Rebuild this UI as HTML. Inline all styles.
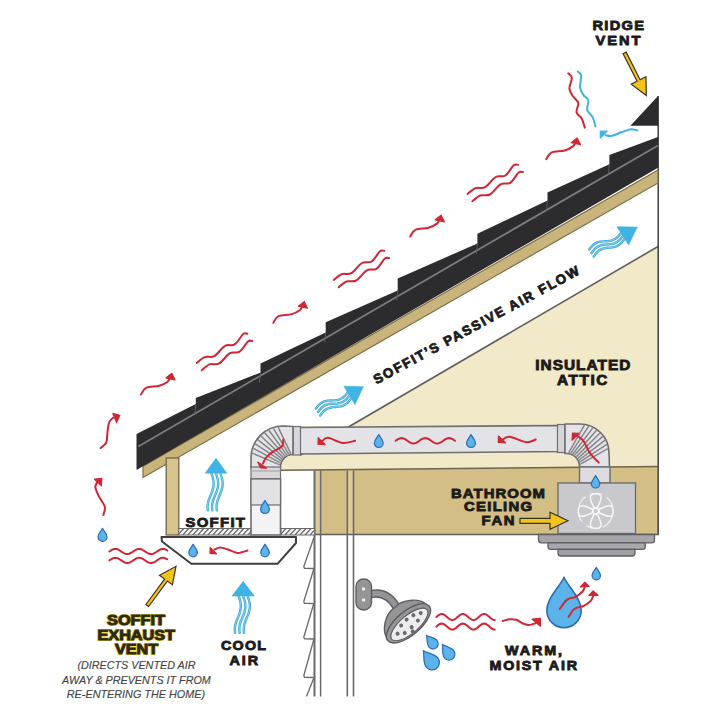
<!DOCTYPE html>
<html><head><meta charset="utf-8"><style>
html,body{margin:0;padding:0;background:#fff;width:720px;height:720px;overflow:hidden}
svg{display:block;font-family:"Liberation Sans",sans-serif}
</style></head><body>
<svg width="720" height="720" viewBox="0 0 720 720">
<rect width="720" height="720" fill="#fff"/>
<polygon points="350,426 658,246.5 658,466.5 281,470.3 281,426" fill="#f2e9c8"/>
<line x1="300" y1="455.2" x2="658" y2="246.5" stroke="#5d5d5f" stroke-width="1.6"/>
<polygon points="315,470 658,466.5 658,534 315,534" fill="#d3be86"/>
<rect x="315" y="470" width="6" height="64" fill="#dccb98"/>
<rect x="347.5" y="470" width="6" height="64" fill="#dccb98"/>
<line x1="281" y1="470.3" x2="659" y2="466.5" stroke="#6b6550" stroke-width="1.6"/>
<line x1="314" y1="534.5" x2="659" y2="534.5" stroke="#5d5d5f" stroke-width="1.6"/>
<line x1="658.2" y1="96" x2="658.2" y2="534.5" stroke="#4a4a4c" stroke-width="1.6"/>
<line x1="314.5" y1="470.5" x2="314.5" y2="696.5" stroke="#6a6a6c" stroke-width="2"/>
<line x1="320.6" y1="470.5" x2="320.6" y2="696.5" stroke="#6a6a6c" stroke-width="1.5"/>
<line x1="347.3" y1="470.5" x2="347.3" y2="696.5" stroke="#6a6a6c" stroke-width="1.6"/>
<line x1="353.5" y1="470.5" x2="353.5" y2="696.5" stroke="#6a6a6c" stroke-width="1.6"/>
<path d="M313.8 538 L303.8 566.5 L304.4 568.3 L313.8 568.5 M313.8 569 L303.8 601.5 L304.4 603.3 L313.8 603.5 M313.8 603.5 L303.8 637 L304.4 638.8 L313.8 639 M313.8 639.5 L303.8 675.5 L304.4 677.3 L313.8 677.5 M313.8 678 L306.5 696.5" fill="none" stroke="#6a6a6c" stroke-width="1.3" stroke-linejoin="round"/>
<polygon points="143,466.3 658,170 658,183 143,477.5" fill="#c9b47c" stroke="#7d6f48" stroke-width="1.2"/>
<rect x="166.2" y="458" width="12.6" height="77" fill="#d6c48c" stroke="#6e6448" stroke-width="1.3"/>
<polygon points="136.5,434 195.8,404 195.8,398 260.5,372.6 260.5,363.6 325.7,332.6 325.7,322.2 397.7,290.5 397.7,278.4 477.4,243.5 477.4,233.75 547.5,200.6 547.5,192.5 609.4,164.2 609.4,155.1 658,137 658,167.8 136.5,470" fill="#2c2c2e"/>
<line x1="138.3" y1="446.5" x2="658" y2="145.5" stroke="#7c7c80" stroke-width="1.8"/>
<line x1="195.8" y1="404" x2="194.8" y2="414" stroke="#5a5a5e" stroke-width="1"/>
<line x1="260.5" y1="372.6" x2="259.5" y2="382.6" stroke="#5a5a5e" stroke-width="1"/>
<line x1="325.7" y1="332.6" x2="324.7" y2="342.6" stroke="#5a5a5e" stroke-width="1"/>
<line x1="397.7" y1="290.5" x2="396.7" y2="300.5" stroke="#5a5a5e" stroke-width="1"/>
<line x1="477.4" y1="243.5" x2="476.4" y2="253.5" stroke="#5a5a5e" stroke-width="1"/>
<line x1="547.5" y1="200.6" x2="546.5" y2="210.6" stroke="#5a5a5e" stroke-width="1"/>
<line x1="609.4" y1="164.2" x2="608.4" y2="174.2" stroke="#5a5a5e" stroke-width="1"/>
<polygon points="658,96 658,125.8 630.4,125.8" fill="#2c2c2e"/>
<rect x="178.8" y="528.5" width="72.2" height="6.5" fill="#f2f2f2" stroke="#6a6a6c" stroke-width="1"/>
<clipPath id="h178"><rect x="178.8" y="528.5" width="72.2" height="6.5"/></clipPath>
<path d="M172.8 535 L178.8 528.5 M177.8 535 L183.8 528.5 M182.8 535 L188.8 528.5 M187.8 535 L193.8 528.5 M192.8 535 L198.8 528.5 M197.8 535 L203.8 528.5 M202.8 535 L208.8 528.5 M207.8 535 L213.8 528.5 M212.8 535 L218.8 528.5 M217.8 535 L223.8 528.5 M222.8 535 L228.8 528.5 M227.8 535 L233.8 528.5 M232.8 535 L238.8 528.5 M237.8 535 L243.8 528.5 M242.8 535 L248.8 528.5 M247.8 535 L253.8 528.5" stroke="#6a6a6c" stroke-width="1.2" clip-path="url(#h178)"/>
<rect x="281" y="528.5" width="33.7" height="6.5" fill="#f2f2f2" stroke="#6a6a6c" stroke-width="1"/>
<clipPath id="h281"><rect x="281" y="528.5" width="33.7" height="6.5"/></clipPath>
<path d="M275 535 L281 528.5 M280 535 L286 528.5 M285 535 L291 528.5 M290 535 L296 528.5 M295 535 L301 528.5 M300 535 L306 528.5 M305 535 L311 528.5 M310 535 L316 528.5" stroke="#6a6a6c" stroke-width="1.2" clip-path="url(#h281)"/>
<path d="M161.5 537 L296 537 L296 543 L277.5 563.8 L191.3 563.8 L162 541.5 Z" fill="#fff" stroke="#3f3f41" stroke-width="2" stroke-linejoin="round"/>
<polygon points="296,427.5 564,425.5 564,451.5 296,454" fill="#e3e3e7" stroke="#6e6e72" stroke-width="1.6"/>
<rect x="293" y="426.5" width="7.5" height="28.5" fill="#d6d6da" stroke="#6e6e72" stroke-width="1.2"/>
<rect x="557.5" y="424.5" width="7.5" height="28" fill="#d6d6da" stroke="#6e6e72" stroke-width="1.2"/>
<path d="M251 468 L251 458 A32 32 0 0 1 283 426 L293 426.5 L293 454.5 A12.5 12.5 0 0 0 280.5 467 L280.5 468 Z" fill="#e4e4e8" stroke="#6e6e72" stroke-width="1.6" stroke-linejoin="round"/>
<path d="M252.18 453.12 L279.86 464.92 M253.33 448.36 L280.35 462.89 M255.2 443.84 L281.15 460.96 M257.76 439.66 L282.24 459.18 M260.94 435.94 L283.6 457.6 M264.66 432.76 L285.18 456.24 M268.84 430.2 L286.96 455.15 M273.36 428.33 L288.89 454.35 M278.12 427.18 L290.92 453.86" stroke="#86868a" stroke-width="1.5"/>
<rect x="251" y="467" width="29.5" height="12" fill="#d8d8dc" stroke="#6e6e72" stroke-width="1.2"/>
<line x1="251" y1="471" x2="280.5" y2="471" stroke="#a0a0a4" stroke-width="1"/>
<rect x="251" y="479" width="29.5" height="56" fill="#f3f3f5" stroke="#6e6e72" stroke-width="1.6"/>
<rect x="251" y="479" width="29.5" height="26" fill="#e2e2e6" stroke="#6e6e72" stroke-width="1.2"/>
<path d="M565 424 L580 424 A29 29 0 0 1 609 453 L609.5 467 L579.5 467 A13 13 0 0 0 566.5 453.5 L565 453.5 Z" fill="#e4e4e8" stroke="#6e6e72" stroke-width="1.6" stroke-linejoin="round"/>
<path d="M584.41 425.15 L568.66 452.87 M588.71 426.18 L570.76 453.38 M592.8 427.87 L572.77 454.2 M596.58 430.19 L574.61 455.34 M599.94 433.06 L576.26 456.74 M602.81 436.42 L577.66 458.39 M605.13 440.2 L578.8 460.23 M606.82 444.29 L579.62 462.24 M607.85 448.59 L580.13 464.34" stroke="#86868a" stroke-width="1.5"/>
<rect x="579.5" y="467" width="30.5" height="16" fill="#dcdce0" stroke="#6e6e72" stroke-width="1.4"/>
<rect x="558" y="483" width="77.5" height="50.5" fill="#c9c9cd" stroke="#6e6e72" stroke-width="1.4"/>
<path d="M538.5 534.5 L654.5 534.5 L654.5 540 Q654.5 542.8 651.5 542.8 L541.5 542.8 Q538.5 542.8 538.5 540 Z" fill="#a6a6aa" stroke="#5e5e62" stroke-width="1.3"/>
<path d="M548 542.8 L645.3 542.8 L645.3 546.5 Q645.3 549.4 642.3 549.4 L551 549.4 Q548 549.4 548 546.5 Z" fill="#a9a9ad" stroke="#5e5e62" stroke-width="1.3"/>
<path d="M558 549.4 L635 549.4 L635 553 Q635 556 632 556 L561 556 Q558 556 558 553 Z" fill="#a0a0a4" stroke="#5e5e62" stroke-width="1.3"/>
<g fill="none" stroke="#f6f6f8" stroke-width="1.5"><path d="M-1.6 -3.2 C -3.5 -7 -6.5 -12 -5 -15.5 C -3.5 -18 3.5 -18 5 -15.5 C 6.5 -12 3.5 -7 1.6 -3.2 Z" transform="translate(595.7 511) rotate(0)"/><path d="M-1.6 -3.2 C -3.5 -7 -6.5 -12 -5 -15.5 C -3.5 -18 3.5 -18 5 -15.5 C 6.5 -12 3.5 -7 1.6 -3.2 Z" transform="translate(595.7 511) rotate(90)"/><path d="M-1.6 -3.2 C -3.5 -7 -6.5 -12 -5 -15.5 C -3.5 -18 3.5 -18 5 -15.5 C 6.5 -12 3.5 -7 1.6 -3.2 Z" transform="translate(595.7 511) rotate(180)"/><path d="M-1.6 -3.2 C -3.5 -7 -6.5 -12 -5 -15.5 C -3.5 -18 3.5 -18 5 -15.5 C 6.5 -12 3.5 -7 1.6 -3.2 Z" transform="translate(595.7 511) rotate(270)"/><circle cx="595.7" cy="511" r="3"/></g>
<circle cx="595.7" cy="511" r="17.5" fill="none" stroke="#f0f0f2" stroke-width="1.3" stroke-dasharray="11 6" transform="rotate(30 595.7 511)"/>
<path d="M371 594 C 381 592 390 595 397 608" fill="none" stroke="#5e5e62" stroke-width="8.5" stroke-linecap="round"/>
<path d="M371 594 C 381 592 390 595 397 608" fill="none" stroke="#959599" stroke-width="5.5" stroke-linecap="round"/>
<rect x="356" y="579" width="15.5" height="31" rx="7.5" fill="#959599" stroke="#5e5e62" stroke-width="1.4"/>
<circle cx="363.5" cy="589" r="1.7" fill="#f0f0f2"/><circle cx="363.5" cy="600" r="1.7" fill="#f0f0f2"/>
<g transform="translate(406.5 621) rotate(-40)"><path d="M-26 1 C -25 -10 -12 -17 -5 -18 L 5 -18 C 12 -17 25 -10 26 1 Z" fill="#959599" stroke="#5e5e62" stroke-width="1.4"/><ellipse cx="0" cy="3" rx="27" ry="12" fill="#959599" stroke="#5e5e62" stroke-width="1.4"/><ellipse cx="0" cy="4.5" rx="23" ry="9" fill="#ededef" stroke="#5e5e62" stroke-width="1.1"/><circle cx="-15" cy="4" r="2" fill="#6a6a6e"/><circle cx="-7" cy="0" r="2" fill="#6a6a6e"/><circle cx="1" cy="-1" r="2" fill="#6a6a6e"/><circle cx="9" cy="0" r="2" fill="#6a6a6e"/><circle cx="16" cy="3" r="2" fill="#6a6a6e"/><circle cx="-9" cy="8" r="2" fill="#6a6a6e"/><circle cx="0" cy="8" r="2" fill="#6a6a6e"/><circle cx="9" cy="7" r="2" fill="#6a6a6e"/><circle cx="-2" cy="12" r="2" fill="#6a6a6e"/></g>
<path d="M140.9 394.5 C141.77 393.4 143.03 389.35 146.1 387.9 C149.17 386.45 155.72 386.83 159.3 385.8 C162.88 384.77 165.73 383.17 167.6 381.7 C169.47 380.23 170.02 377.78 170.5 377" fill="none" stroke="#d12734" stroke-width="2" stroke-linecap="round" stroke-linejoin="round"/>
<polygon points="171.8,373.3 165.9,377.9 175.1,379.9" fill="#d12734" stroke="#d12734" stroke-width="1.2" stroke-linejoin="round"/>
<path d="M273.3 322.8 C274.17 321.7 275.43 317.65 278.5 316.2 C281.57 314.75 288.12 315.13 291.7 314.1 C295.28 313.07 298.13 311.47 300 310 C301.87 308.53 302.42 306.08 302.9 305.3" fill="none" stroke="#d12734" stroke-width="2" stroke-linecap="round" stroke-linejoin="round"/>
<polygon points="304.2,301.6 298.3,306.2 307.5,308.2" fill="#d12734" stroke="#d12734" stroke-width="1.2" stroke-linejoin="round"/>
<path d="M410.2 236.4 C411.07 235.3 412.33 231.25 415.4 229.8 C418.47 228.35 425.02 228.73 428.6 227.7 C432.18 226.67 435.03 225.07 436.9 223.6 C438.77 222.13 439.32 219.68 439.8 218.9" fill="none" stroke="#d12734" stroke-width="2" stroke-linecap="round" stroke-linejoin="round"/>
<polygon points="441.1,215.2 435.2,219.8 444.4,221.8" fill="#d12734" stroke="#d12734" stroke-width="1.2" stroke-linejoin="round"/>
<path d="M546.25 159.2 C547.12 158.1 548.38 154.05 551.45 152.6 C554.52 151.15 561.07 151.53 564.65 150.5 C568.23 149.47 571.08 147.87 572.95 146.4 C574.82 144.93 575.37 142.48 575.85 141.7" fill="none" stroke="#d12734" stroke-width="2" stroke-linecap="round" stroke-linejoin="round"/>
<polygon points="577.15,138 571.25,142.6 580.45,144.6" fill="#d12734" stroke="#d12734" stroke-width="1.2" stroke-linejoin="round"/>
<path d="M103.4 515.1 C103.63 513.72 105.55 509.92 104.8 506.8 C104.05 503.68 100.47 499.63 98.9 496.4 C97.33 493.17 95.68 489.72 95.4 487.4 C95.12 485.08 96.52 483.65 97.2 482.5 C97.88 481.35 99.12 480.83 99.5 480.5" fill="none" stroke="#d12734" stroke-width="2" stroke-linecap="round" stroke-linejoin="round"/>
<polygon points="101.8,478.3 94.4,479.2 101.4,485.8" fill="#d12734" stroke="#d12734" stroke-width="1.2" stroke-linejoin="round"/>
<path d="M100.6 448.1 C101.54 447.17 105.1 445.2 106.25 442.5 C107.4 439.8 107.03 435.23 107.5 431.9 C107.97 428.57 108.17 424.85 109.1 422.5 C110.03 420.15 111.95 418.75 113.1 417.8 C114.25 416.85 115.52 416.97 116 416.8" fill="none" stroke="#d12734" stroke-width="2" stroke-linecap="round" stroke-linejoin="round"/>
<polygon points="119.8,415.3 112.8,413.3 116.6,422.6" fill="#d12734" stroke="#d12734" stroke-width="1.2" stroke-linejoin="round"/>
<path d="M196.8 362.9 C198.1 361.93 201.68 358.23 204.6 357.1 C207.52 355.97 210.9 357.97 214.3 356.1 C217.7 354.23 221.6 347.85 225 345.9 C228.4 343.95 231.7 346.35 234.7 344.4 C237.7 342.45 240.9 335.98 243 334.2 C245.1 332.42 246.58 333.78 247.3 333.7" fill="none" stroke="#d12734" stroke-width="2" stroke-linecap="round" stroke-linejoin="round"/>
<path d="M201.7 370.2 C203 369.23 206.58 365.53 209.5 364.4 C212.42 363.27 215.8 365.27 219.2 363.4 C222.6 361.53 226.5 355.15 229.9 353.2 C233.3 351.25 236.6 353.65 239.6 351.7 C242.6 349.75 245.8 343.28 247.9 341.5 C250 339.72 251.48 341.08 252.2 341" fill="none" stroke="#d12734" stroke-width="2" stroke-linecap="round" stroke-linejoin="round"/>
<path d="M333.75 280 C335.05 279.03 338.63 275.33 341.55 274.2 C344.47 273.07 347.85 275.07 351.25 273.2 C354.65 271.33 358.55 264.95 361.95 263 C365.35 261.05 368.65 263.45 371.65 261.5 C374.65 259.55 377.85 253.08 379.95 251.3 C382.05 249.52 383.53 250.88 384.25 250.8" fill="none" stroke="#d12734" stroke-width="2" stroke-linecap="round" stroke-linejoin="round"/>
<path d="M338.65 287.3 C339.95 286.33 343.53 282.63 346.45 281.5 C349.37 280.37 352.75 282.37 356.15 280.5 C359.55 278.63 363.45 272.25 366.85 270.3 C370.25 268.35 373.55 270.75 376.55 268.8 C379.55 266.85 382.75 260.38 384.85 258.6 C386.95 256.82 388.43 258.18 389.15 258.1" fill="none" stroke="#d12734" stroke-width="2" stroke-linecap="round" stroke-linejoin="round"/>
<path d="M467.5 194 C468.8 193.03 472.38 189.33 475.3 188.2 C478.22 187.07 481.6 189.07 485 187.2 C488.4 185.33 492.3 178.95 495.7 177 C499.1 175.05 502.4 177.45 505.4 175.5 C508.4 173.55 511.6 167.08 513.7 165.3 C515.8 163.52 517.28 164.88 518 164.8" fill="none" stroke="#d12734" stroke-width="2" stroke-linecap="round" stroke-linejoin="round"/>
<path d="M472.4 201.3 C473.7 200.33 477.28 196.63 480.2 195.5 C483.12 194.37 486.5 196.37 489.9 194.5 C493.3 192.63 497.2 186.25 500.6 184.3 C504 182.35 507.3 184.75 510.3 182.8 C513.3 180.85 516.5 174.38 518.6 172.6 C520.7 170.82 522.18 172.18 522.9 172.1" fill="none" stroke="#d12734" stroke-width="2" stroke-linecap="round" stroke-linejoin="round"/>
<path d="M568.3 73.3 C568.88 74.08 571.62 75.45 571.8 78 C571.98 80.55 569.2 85.55 569.4 88.6 C569.6 91.65 571.52 93.93 573 96.3 C574.48 98.67 577.72 100.15 578.3 102.8 C578.88 105.45 575.92 109.55 576.5 112.2 C577.08 114.85 580.42 116.13 581.8 118.7 C583.18 121.27 584.3 126.12 584.8 127.6" fill="none" stroke="#d12734" stroke-width="2" stroke-linecap="round" stroke-linejoin="round"/>
<path d="M577.7 71.5 C578.29 72.18 580.87 72.95 581.25 75.6 C581.63 78.25 579.61 84.15 580 87.4 C580.39 90.65 582.22 92.93 583.6 95.1 C584.98 97.27 587.7 97.93 588.3 100.4 C588.9 102.87 586.5 107.15 587.2 109.9 C587.9 112.65 591.13 114.15 592.5 116.9 C593.87 119.65 594.92 124.82 595.4 126.4" fill="none" stroke="#3fb3e3" stroke-width="2" stroke-linecap="round" stroke-linejoin="round"/>
<path d="M637.3 130.5 C636.22 130.3 633.45 129 630.8 129.3 C628.15 129.6 624.53 131.22 621.4 132.3 C618.27 133.38 614.65 135.32 612 135.8 C609.35 136.28 606.58 135.3 605.5 135.2" fill="none" stroke="#3fb3e3" stroke-width="2" stroke-linecap="round" stroke-linejoin="round"/>
<polygon points="600.3,131.2 600.3,138.2 607.2,131.2" fill="#3fb3e3" stroke="#3fb3e3" stroke-width="1.2" stroke-linejoin="round"/>
<path d="M109.4 551.5 L110.4 550.82 L111.39 550.19 L112.39 549.65 L113.39 549.24 L114.38 548.98 L115.38 548.9 L116.38 549 L117.37 549.26 L118.37 549.69 L119.37 550.23 L120.36 550.87 L121.36 551.55 L122.36 552.22 L123.35 552.85 L124.35 553.38 L125.34 553.78 L126.34 554.03 L127.34 554.1 L128.33 553.99 L129.33 553.71 L130.33 553.28 L131.32 552.73 L132.32 552.09 L133.32 551.41 L134.31 550.74 L135.31 550.12 L136.31 549.59 L137.3 549.2 L138.3 548.96 L139.3 548.9 L140.29 549.02 L141.29 549.31 L142.29 549.75 L143.28 550.31 L144.28 550.95 L145.28 551.64 L146.27 552.31 L147.27 552.92 L148.27 553.44 L149.26 553.82 L150.26 554.05 L151.26 554.1 L152.25 553.96 L153.25 553.66 L154.24 553.22 L155.24 552.65 L156.24 552 L157.23 551.32 L158.23 550.65 L159.23 550.04 L160.22 549.53 L161.22 549.16 L162.22 548.94 L163.21 548.91 L164.21 549.05 L165.21 549.36 L166.2 549.82 L167.2 550.39" fill="none" stroke="#d12734" stroke-width="2" stroke-linecap="round" stroke-linejoin="round"/>
<path d="M109.4 560.4 L110.4 559.72 L111.39 559.09 L112.39 558.55 L113.39 558.14 L114.38 557.88 L115.38 557.8 L116.38 557.9 L117.37 558.16 L118.37 558.59 L119.37 559.13 L120.36 559.77 L121.36 560.45 L122.36 561.12 L123.35 561.75 L124.35 562.28 L125.34 562.68 L126.34 562.93 L127.34 563 L128.33 562.89 L129.33 562.61 L130.33 562.18 L131.32 561.63 L132.32 560.99 L133.32 560.31 L134.31 559.64 L135.31 559.02 L136.31 558.49 L137.3 558.1 L138.3 557.86 L139.3 557.8 L140.29 557.92 L141.29 558.21 L142.29 558.65 L143.28 559.21 L144.28 559.85 L145.28 560.54 L146.27 561.21 L147.27 561.82 L148.27 562.34 L149.26 562.72 L150.26 562.95 L151.26 563 L152.25 562.86 L153.25 562.56 L154.24 562.12 L155.24 561.55 L156.24 560.9 L157.23 560.22 L158.23 559.55 L159.23 558.94 L160.22 558.43 L161.22 558.06 L162.22 557.84 L163.21 557.81 L164.21 557.95 L165.21 558.26 L166.2 558.72 L167.2 559.29" fill="none" stroke="#d12734" stroke-width="2" stroke-linecap="round" stroke-linejoin="round"/>
<path d="M0 0 C1.12 2.61 4.49 5.35 4.49 8.71 A4.49 4.49 0 0 1 -4.49 8.71 C-4.49 5.35 -1.12 2.61 0 0 Z" transform="translate(102.5 528.3) rotate(-0)" fill="#5cb3ea" stroke="#2b6db3" stroke-width="1.2" stroke-linejoin="round"/>
<path d="M0 0 C1.07 2.49 4.28 5.1 4.28 8.32 A4.28 4.28 0 0 1 -4.28 8.32 C-4.28 5.1 -1.07 2.49 0 0 Z" transform="translate(193.1 544.2) rotate(-0)" fill="#5cb3ea" stroke="#2b6db3" stroke-width="1.2" stroke-linejoin="round"/>
<path d="M0 0 C1.07 2.49 4.28 5.1 4.28 8.32 A4.28 4.28 0 0 1 -4.28 8.32 C-4.28 5.1 -1.07 2.49 0 0 Z" transform="translate(265 544.2) rotate(0)" fill="#5cb3ea" stroke="#2b6db3" stroke-width="1.2" stroke-linejoin="round"/>
<path d="M247.5 550.5 C245.83 550.92 240.75 553.17 237.5 553 C234.25 552.83 230.92 550.4 228 549.5 C225.08 548.6 222.25 547.6 220 547.6 C217.75 547.6 215.42 549.18 214.5 549.5" fill="none" stroke="#d12734" stroke-width="2" stroke-linecap="round" stroke-linejoin="round"/>
<polygon points="210,553.3 210.2,547.3 216.6,553.8" fill="#d12734" stroke="#d12734" stroke-width="1.2" stroke-linejoin="round"/>
<path d="M355.1 440.8 C353.02 441.15 347.12 443.42 342.6 442.9 C338.08 442.38 331.43 437.98 328 437.7 C324.57 437.42 323 440.62 322 441.2" fill="none" stroke="#d12734" stroke-width="2" stroke-linecap="round" stroke-linejoin="round"/>
<polygon points="318,444.2 318.2,437.6 325.2,444.6" fill="#d12734" stroke="#d12734" stroke-width="1.2" stroke-linejoin="round"/>
<path d="M395.6 440.8 L396.59 440.1 L397.58 439.45 L398.57 438.89 L399.56 438.46 L400.55 438.19 L401.54 438.1 L402.53 438.19 L403.52 438.46 L404.51 438.89 L405.5 439.45 L406.49 440.1 L407.48 440.8 L408.47 441.5 L409.46 442.15 L410.45 442.71 L411.44 443.14 L412.43 443.41 L413.42 443.5 L414.41 443.41 L415.4 443.14 L416.39 442.71 L417.38 442.15 L418.37 441.5 L419.36 440.8 L420.35 440.1 L421.34 439.45 L422.33 438.89 L423.32 438.46 L424.31 438.19 L425.3 438.1 L426.29 438.19 L427.28 438.46 L428.27 438.89 L429.26 439.45 L430.25 440.1 L431.24 440.8 L432.23 441.5 L433.22 442.15 L434.21 442.71 L435.2 443.14 L436.19 443.41 L437.18 443.5 L438.17 443.41 L439.16 443.14 L440.15 442.71 L441.14 442.15 L442.13 441.5 L443.12 440.8 L444.11 440.1 L445.1 439.45 L446.09 438.89 L447.08 438.46 L448.07 438.19 L449.06 438.1 L450.05 438.19 L451.04 438.46 L452.03 438.89 L453.02 439.45 L454.01 440.1 L455 440.8" fill="none" stroke="#d12734" stroke-width="2" stroke-linecap="round" stroke-linejoin="round"/>
<path d="M0 0 C1.1 2.57 4.42 5.26 4.42 8.58 A4.42 4.42 0 0 1 -4.42 8.58 C-4.42 5.26 -1.1 2.57 0 0 Z" transform="translate(378.75 434.5) rotate(-0)" fill="#5cb3ea" stroke="#2b6db3" stroke-width="1.2" stroke-linejoin="round"/>
<path d="M0 0 C1.1 2.57 4.42 5.26 4.42 8.58 A4.42 4.42 0 0 1 -4.42 8.58 C-4.42 5.26 -1.1 2.57 0 0 Z" transform="translate(471 434.5) rotate(0)" fill="#5cb3ea" stroke="#2b6db3" stroke-width="1.2" stroke-linejoin="round"/>
<path d="M535.8 439.5 C534.18 439.95 530.5 442.67 526.1 442.2 C521.7 441.73 513.42 437.03 509.4 436.7 C505.38 436.37 503.23 439.62 502 440.2" fill="none" stroke="#d12734" stroke-width="2" stroke-linecap="round" stroke-linejoin="round"/>
<polygon points="498.3,442.4 498.4,436 505.5,442.8" fill="#d12734" stroke="#d12734" stroke-width="1.2" stroke-linejoin="round"/>
<path d="M283.25 439.4 C283.04 440.54 283.77 444.17 282 446.25 C280.23 448.33 275.31 449.92 272.6 451.9 C269.89 453.88 267.35 456.17 265.75 458.1 C264.15 460.03 263.46 462.6 263 463.5" fill="none" stroke="#d12734" stroke-width="2" stroke-linecap="round" stroke-linejoin="round"/>
<polygon points="260.5,467.8 257.8,462 266.6,468.2" fill="#d12734" stroke="#d12734" stroke-width="1.2" stroke-linejoin="round"/>
<path d="M598.75 462.5 C597.29 460.93 592.5 456.64 590 453.1 C587.5 449.56 585.62 443.95 583.75 441.25 C581.88 438.55 580.04 437.86 578.75 436.9 C577.46 435.94 576.46 435.73 576 435.5" fill="none" stroke="#d12734" stroke-width="2" stroke-linecap="round" stroke-linejoin="round"/>
<polygon points="572.5,433.2 572,440.2 579.2,433.3" fill="#d12734" stroke="#d12734" stroke-width="1.2" stroke-linejoin="round"/>
<path d="M0 0 C1.1 2.57 4.42 5.26 4.42 8.58 A4.42 4.42 0 0 1 -4.42 8.58 C-4.42 5.26 -1.1 2.57 0 0 Z" transform="translate(265 500.5) rotate(0)" fill="#5cb3ea" stroke="#2b6db3" stroke-width="1.2" stroke-linejoin="round"/>
<path d="M0 0 C1.06 2.48 4.25 5.06 4.25 8.25 A4.25 4.25 0 0 1 -4.25 8.25 C-4.25 5.06 -1.06 2.48 0 0 Z" transform="translate(595.6 475.5) rotate(-0)" fill="#5cb3ea" stroke="#2b6db3" stroke-width="1.2" stroke-linejoin="round"/>
<path d="M436.4 617 L437.28 616.22 L438.17 615.5 L439.05 614.88 L439.93 614.4 L440.82 614.1 L441.7 614 L442.58 614.1 L443.47 614.4 L444.35 614.88 L445.23 615.5 L446.12 616.22 L447 617 L447.88 617.78 L448.77 618.5 L449.65 619.12 L450.53 619.6 L451.42 619.9 L452.3 620 L453.18 619.9 L454.07 619.6 L454.95 619.12 L455.83 618.5 L456.72 617.78 L457.6 617 L458.48 616.22 L459.37 615.5 L460.25 614.88 L461.13 614.4 L462.02 614.1 L462.9 614 L463.78 614.1 L464.67 614.4 L465.55 614.88 L466.43 615.5 L467.32 616.22 L468.2 617 L469.08 617.78 L469.97 618.5 L470.85 619.12 L471.73 619.6 L472.62 619.9 L473.5 620 L474.38 619.9 L475.27 619.6 L476.15 619.12 L477.03 618.5 L477.92 617.78 L478.8 617 L479.68 616.22 L480.57 615.5 L481.45 614.88 L482.33 614.4 L483.22 614.1 L484.1 614 L484.98 614.1 L485.87 614.4 L486.75 614.88 L487.63 615.5 L488.52 616.22 L489.4 617 L490.28 617.78 L491.17 618.5 L492.05 619.12 L492.93 619.6 L493.82 619.9 L494.7 620" fill="none" stroke="#d12734" stroke-width="2" stroke-linecap="round" stroke-linejoin="round"/>
<path d="M436.4 626.6 L437.28 625.82 L438.17 625.1 L439.05 624.48 L439.93 624 L440.82 623.7 L441.7 623.6 L442.58 623.7 L443.47 624 L444.35 624.48 L445.23 625.1 L446.12 625.82 L447 626.6 L447.88 627.38 L448.77 628.1 L449.65 628.72 L450.53 629.2 L451.42 629.5 L452.3 629.6 L453.18 629.5 L454.07 629.2 L454.95 628.72 L455.83 628.1 L456.72 627.38 L457.6 626.6 L458.48 625.82 L459.37 625.1 L460.25 624.48 L461.13 624 L462.02 623.7 L462.9 623.6 L463.78 623.7 L464.67 624 L465.55 624.48 L466.43 625.1 L467.32 625.82 L468.2 626.6 L469.08 627.38 L469.97 628.1 L470.85 628.72 L471.73 629.2 L472.62 629.5 L473.5 629.6 L474.38 629.5 L475.27 629.2 L476.15 628.72 L477.03 628.1 L477.92 627.38 L478.8 626.6 L479.68 625.82 L480.57 625.1 L481.45 624.48 L482.33 624 L483.22 623.7 L484.1 623.6 L484.98 623.7 L485.87 624 L486.75 624.48 L487.63 625.1 L488.52 625.82 L489.4 626.6 L490.28 627.38 L491.17 628.1 L492.05 628.72 L492.93 629.2 L493.82 629.5 L494.7 629.6" fill="none" stroke="#d12734" stroke-width="2" stroke-linecap="round" stroke-linejoin="round"/>
<path d="M502.7 621 C503.75 620.72 506.73 619.5 509 619.3 C511.27 619.1 513.97 619.1 516.3 619.8 C518.63 620.5 520.88 622.63 523 623.5 C525.12 624.37 526.92 625.05 529 625 C531.08 624.95 534.42 623.5 535.5 623.2" fill="none" stroke="#d12734" stroke-width="2" stroke-linecap="round" stroke-linejoin="round"/>
<polygon points="540.5,618.3 532.2,619.2 540.4,626.2" fill="#d12734" stroke="#d12734" stroke-width="1.2" stroke-linejoin="round"/>
<path d="M0 0 C1.3 3.17 5.2 6.68 5.2 10.58 A5.2 5.2 0 0 1 -5.2 10.58 C-5.2 6.68 -1.3 3.17 0 0 Z" transform="translate(426.5 635.4) rotate(-37.9)" fill="#5cb3ea" stroke="#2b6db3" stroke-width="1.2" stroke-linejoin="round"/>
<path d="M0 0 C1.48 3.54 5.9 7.39 5.9 11.82 A5.9 5.9 0 0 1 -5.9 11.82 C-5.9 7.39 -1.48 3.54 0 0 Z" transform="translate(442.4 644.4) rotate(-33.96)" fill="#5cb3ea" stroke="#2b6db3" stroke-width="1.2" stroke-linejoin="round"/>
<path d="M0 0 C1.85 4.4 7.4 9.11 7.4 14.66 A7.4 7.4 0 0 1 -7.4 14.66 C-7.4 9.11 -1.85 4.4 0 0 Z" transform="translate(423.3 650.7) rotate(-36.4)" fill="#5cb3ea" stroke="#2b6db3" stroke-width="1.2" stroke-linejoin="round"/>
<path d="M0 0 C4.29 10 17.17 20.45 17.17 33.33 A17.17 17.17 0 0 1 -17.17 33.33 C-17.17 20.45 -4.29 10 0 0 Z" transform="translate(564 577.2) rotate(0)" fill="#5cb3ea" stroke="#2b6db3" stroke-width="1.6" stroke-linejoin="round"/>
<path d="M0 0 C1.06 2.48 4.25 5.06 4.25 8.25 A4.25 4.25 0 0 1 -4.25 8.25 C-4.25 5.06 -1.06 2.48 0 0 Z" transform="translate(596.25 567.3) rotate(-0)" fill="#5cb3ea" stroke="#2b6db3" stroke-width="1.2" stroke-linejoin="round"/>
<path d="M559.8 609 C561.02 607.43 564.5 601.6 567.1 599.6 C569.7 597.6 572.8 598.39 575.4 597 C578 595.61 581.1 593.08 582.7 591.25 C584.3 589.42 584.62 586.88 585 586" fill="none" stroke="#d12734" stroke-width="2" stroke-linecap="round" stroke-linejoin="round"/>
<polygon points="584.8,582.2 580.4,587 589.2,586.4" fill="#d12734" stroke="#d12734" stroke-width="1.2" stroke-linejoin="round"/>
<path d="M568.6 616.8 C569.57 615.5 571.88 610.83 574.4 609 C576.92 607.17 580.98 607.2 583.75 605.8 C586.52 604.4 589.41 602.4 591 600.6 C592.59 598.8 592.92 595.93 593.3 595" fill="none" stroke="#d12734" stroke-width="2" stroke-linecap="round" stroke-linejoin="round"/>
<polygon points="593.1,591 588.8,595.3 598,595.3" fill="#d12734" stroke="#d12734" stroke-width="1.2" stroke-linejoin="round"/>
<polygon points="216,457.7 227.3,473.5 204.7,473.5" fill="#3fb3e3"/>
<path d="M211.5 473.5 L212.11 475.38 L212.67 477.25 L213.14 479.13 L213.48 480.99 L213.65 482.85 L213.65 484.71 L213.46 486.55 L213.09 488.39 L212.57 490.22 L211.93 492.05 L211.2 493.87 L210.44 495.69 L209.68 497.52 L208.99 499.34 L208.4 501.17 L207.95 503 L207.67 504.85 L207.56 506.7 L207.64 508.55 L207.9 510.41" fill="none" stroke="#3aa8d8" stroke-width="2.4" stroke-linecap="round" stroke-linejoin="round"/>
<path d="M211.5 473.5 L212.11 475.38 L212.67 477.25 L213.14 479.13 L213.48 480.99 L213.65 482.85 L213.65 484.71 L213.46 486.55 L213.09 488.39 L212.57 490.22 L211.93 492.05 L211.2 493.87 L210.44 495.69 L209.68 497.52 L208.99 499.34 L208.4 501.17 L207.95 503 L207.67 504.85 L207.56 506.7 L207.64 508.55 L207.9 510.41" fill="none" stroke="#9fe3f7" stroke-width="0.7" stroke-linecap="round" stroke-linejoin="round"/>
<path d="M216 473.5 L216.61 475.38 L217.17 477.25 L217.64 479.13 L217.98 480.99 L218.15 482.85 L218.15 484.71 L217.96 486.55 L217.59 488.39 L217.07 490.22 L216.43 492.05 L215.7 493.87 L214.94 495.69 L214.18 497.52 L213.49 499.34 L212.9 501.17 L212.45 503 L212.17 504.85 L212.06 506.7 L212.14 508.55 L212.4 510.41" fill="none" stroke="#3aa8d8" stroke-width="2.4" stroke-linecap="round" stroke-linejoin="round"/>
<path d="M216 473.5 L216.61 475.38 L217.17 477.25 L217.64 479.13 L217.98 480.99 L218.15 482.85 L218.15 484.71 L217.96 486.55 L217.59 488.39 L217.07 490.22 L216.43 492.05 L215.7 493.87 L214.94 495.69 L214.18 497.52 L213.49 499.34 L212.9 501.17 L212.45 503 L212.17 504.85 L212.06 506.7 L212.14 508.55 L212.4 510.41" fill="none" stroke="#9fe3f7" stroke-width="0.7" stroke-linecap="round" stroke-linejoin="round"/>
<path d="M220.5 473.5 L221.11 475.38 L221.67 477.25 L222.14 479.13 L222.48 480.99 L222.65 482.85 L222.65 484.71 L222.46 486.55 L222.09 488.39 L221.57 490.22 L220.93 492.05 L220.2 493.87 L219.44 495.69 L218.68 497.52 L217.99 499.34 L217.4 501.17 L216.95 503 L216.67 504.85 L216.56 506.7 L216.64 508.55 L216.9 510.41" fill="none" stroke="#3aa8d8" stroke-width="2.4" stroke-linecap="round" stroke-linejoin="round"/>
<path d="M220.5 473.5 L221.11 475.38 L221.67 477.25 L222.14 479.13 L222.48 480.99 L222.65 482.85 L222.65 484.71 L222.46 486.55 L222.09 488.39 L221.57 490.22 L220.93 492.05 L220.2 493.87 L219.44 495.69 L218.68 497.52 L217.99 499.34 L217.4 501.17 L216.95 503 L216.67 504.85 L216.56 506.7 L216.64 508.55 L216.9 510.41" fill="none" stroke="#9fe3f7" stroke-width="0.7" stroke-linecap="round" stroke-linejoin="round"/>
<polygon points="243.2,580.9 254.9,596.2 231.5,596.2" fill="#3fb3e3"/>
<path d="M238.7 596.2 L239.31 598.06 L239.87 599.91 L240.34 601.77 L240.68 603.61 L240.85 605.45 L240.85 607.29 L240.66 609.11 L240.29 610.93 L239.77 612.74 L239.13 614.55 L238.4 616.35 L237.64 618.15 L236.88 619.96 L236.19 621.76 L235.6 623.57 L235.15 625.38 L234.87 627.21 L234.76 629.03 L234.84 630.87 L235.1 632.71" fill="none" stroke="#3aa8d8" stroke-width="2.4" stroke-linecap="round" stroke-linejoin="round"/>
<path d="M238.7 596.2 L239.31 598.06 L239.87 599.91 L240.34 601.77 L240.68 603.61 L240.85 605.45 L240.85 607.29 L240.66 609.11 L240.29 610.93 L239.77 612.74 L239.13 614.55 L238.4 616.35 L237.64 618.15 L236.88 619.96 L236.19 621.76 L235.6 623.57 L235.15 625.38 L234.87 627.21 L234.76 629.03 L234.84 630.87 L235.1 632.71" fill="none" stroke="#9fe3f7" stroke-width="0.7" stroke-linecap="round" stroke-linejoin="round"/>
<path d="M243.2 596.2 L243.81 598.06 L244.37 599.91 L244.84 601.77 L245.18 603.61 L245.35 605.45 L245.35 607.29 L245.16 609.11 L244.79 610.93 L244.27 612.74 L243.63 614.55 L242.9 616.35 L242.14 618.15 L241.38 619.96 L240.69 621.76 L240.1 623.57 L239.65 625.38 L239.37 627.21 L239.26 629.03 L239.34 630.87 L239.6 632.71" fill="none" stroke="#3aa8d8" stroke-width="2.4" stroke-linecap="round" stroke-linejoin="round"/>
<path d="M243.2 596.2 L243.81 598.06 L244.37 599.91 L244.84 601.77 L245.18 603.61 L245.35 605.45 L245.35 607.29 L245.16 609.11 L244.79 610.93 L244.27 612.74 L243.63 614.55 L242.9 616.35 L242.14 618.15 L241.38 619.96 L240.69 621.76 L240.1 623.57 L239.65 625.38 L239.37 627.21 L239.26 629.03 L239.34 630.87 L239.6 632.71" fill="none" stroke="#9fe3f7" stroke-width="0.7" stroke-linecap="round" stroke-linejoin="round"/>
<path d="M247.7 596.2 L248.31 598.06 L248.87 599.91 L249.34 601.77 L249.68 603.61 L249.85 605.45 L249.85 607.29 L249.66 609.11 L249.29 610.93 L248.77 612.74 L248.13 614.55 L247.4 616.35 L246.64 618.15 L245.88 619.96 L245.19 621.76 L244.6 623.57 L244.15 625.38 L243.87 627.21 L243.76 629.03 L243.84 630.87 L244.1 632.71" fill="none" stroke="#3aa8d8" stroke-width="2.4" stroke-linecap="round" stroke-linejoin="round"/>
<path d="M247.7 596.2 L248.31 598.06 L248.87 599.91 L249.34 601.77 L249.68 603.61 L249.85 605.45 L249.85 607.29 L249.66 609.11 L249.29 610.93 L248.77 612.74 L248.13 614.55 L247.4 616.35 L246.64 618.15 L245.88 619.96 L245.19 621.76 L244.6 623.57 L244.15 625.38 L243.87 627.21 L243.76 629.03 L243.84 630.87 L244.1 632.71" fill="none" stroke="#9fe3f7" stroke-width="0.7" stroke-linecap="round" stroke-linejoin="round"/>
<polygon points="343.9,386.2 363.3,386.7 355,404.6" fill="#3fb3e3" stroke="#3fb3e3" stroke-width="0.6" stroke-linejoin="round"/>
<path d="M315.83 408.4 L316.86 407.14 L317.91 405.92 L319 404.77 L320.14 403.74 L321.35 402.85 L322.64 402.11 L324.01 401.52 L325.45 401.09 L326.97 400.8 L328.54 400.62 L330.14 400.52 L331.77 400.46 L333.4 400.4 L335.01 400.3 L336.58 400.12 L338.09 399.83 L339.53 399.4 L340.9 398.82 L342.19 398.08 L343.4 397.19 L344.55 396.15 L345.64 395.01 L346.69 393.79 L347.71 392.52" fill="none" stroke="#3aa8d8" stroke-width="2.4" stroke-linecap="round" stroke-linejoin="round"/>
<path d="M315.83 408.4 L316.86 407.14 L317.91 405.92 L319 404.77 L320.14 403.74 L321.35 402.85 L322.64 402.11 L324.01 401.52 L325.45 401.09 L326.97 400.8 L328.54 400.62 L330.14 400.52 L331.77 400.46 L333.4 400.4 L335.01 400.3 L336.58 400.12 L338.09 399.83 L339.53 399.4 L340.9 398.82 L342.19 398.08 L343.4 397.19 L344.55 396.15 L345.64 395.01 L346.69 393.79 L347.71 392.52" fill="none" stroke="#9fe3f7" stroke-width="0.7" stroke-linecap="round" stroke-linejoin="round"/>
<path d="M318 412 L319 410.71 L320.01 409.47 L321.07 408.3 L322.19 407.24 L323.38 406.32 L324.65 405.55 L326 404.94 L327.43 404.48 L328.94 404.15 L330.5 403.93 L332.1 403.8 L333.73 403.7 L335.35 403.6 L336.95 403.47 L338.51 403.25 L340.02 402.92 L341.45 402.46 L342.8 401.85 L344.07 401.08 L345.26 400.16 L346.38 399.1 L347.44 397.93 L348.45 396.69 L349.45 395.4" fill="none" stroke="#3aa8d8" stroke-width="2.4" stroke-linecap="round" stroke-linejoin="round"/>
<path d="M318 412 L319 410.71 L320.01 409.47 L321.07 408.3 L322.19 407.24 L323.38 406.32 L324.65 405.55 L326 404.94 L327.43 404.48 L328.94 404.15 L330.5 403.93 L332.1 403.8 L333.73 403.7 L335.35 403.6 L336.95 403.47 L338.51 403.25 L340.02 402.92 L341.45 402.46 L342.8 401.85 L344.07 401.08 L345.26 400.16 L346.38 399.1 L347.44 397.93 L348.45 396.69 L349.45 395.4" fill="none" stroke="#9fe3f7" stroke-width="0.7" stroke-linecap="round" stroke-linejoin="round"/>
<path d="M320.17 415.6 L321.13 414.29 L322.12 413.02 L323.15 411.83 L324.24 410.74 L325.41 409.8 L326.66 409 L327.99 408.35 L329.41 407.86 L330.9 407.5 L332.46 407.24 L334.06 407.07 L335.68 406.94 L337.3 406.8 L338.9 406.63 L340.45 406.38 L341.94 406.02 L343.36 405.52 L344.7 404.88 L345.95 404.08 L347.11 403.13 L348.2 402.05 L349.23 400.86 L350.22 399.59 L351.19 398.28" fill="none" stroke="#3aa8d8" stroke-width="2.4" stroke-linecap="round" stroke-linejoin="round"/>
<path d="M320.17 415.6 L321.13 414.29 L322.12 413.02 L323.15 411.83 L324.24 410.74 L325.41 409.8 L326.66 409 L327.99 408.35 L329.41 407.86 L330.9 407.5 L332.46 407.24 L334.06 407.07 L335.68 406.94 L337.3 406.8 L338.9 406.63 L340.45 406.38 L341.94 406.02 L343.36 405.52 L344.7 404.88 L345.95 404.08 L347.11 403.13 L348.2 402.05 L349.23 400.86 L350.22 399.59 L351.19 398.28" fill="none" stroke="#9fe3f7" stroke-width="0.7" stroke-linecap="round" stroke-linejoin="round"/>
<polygon points="616.9,226.7 637.3,227.1 628.6,245.1" fill="#3fb3e3" stroke="#3fb3e3" stroke-width="0.6" stroke-linejoin="round"/>
<path d="M589.25 249.46 L590.26 248.18 L591.29 246.94 L592.36 245.77 L593.5 244.72 L594.7 243.81 L595.98 243.05 L597.34 242.44 L598.78 241.99 L600.29 241.68 L601.86 241.47 L603.47 241.35 L605.1 241.26 L606.73 241.18 L608.34 241.05 L609.9 240.84 L611.41 240.53 L612.85 240.08 L614.22 239.47 L615.5 238.71 L616.7 237.8 L617.83 236.75 L618.9 235.59 L619.94 234.35 L620.95 233.06" fill="none" stroke="#3aa8d8" stroke-width="2.4" stroke-linecap="round" stroke-linejoin="round"/>
<path d="M589.25 249.46 L590.26 248.18 L591.29 246.94 L592.36 245.77 L593.5 244.72 L594.7 243.81 L595.98 243.05 L597.34 242.44 L598.78 241.99 L600.29 241.68 L601.86 241.47 L603.47 241.35 L605.1 241.26 L606.73 241.18 L608.34 241.05 L609.9 240.84 L611.41 240.53 L612.85 240.08 L614.22 239.47 L615.5 238.71 L616.7 237.8 L617.83 236.75 L618.9 235.59 L619.94 234.35 L620.95 233.06" fill="none" stroke="#9fe3f7" stroke-width="0.7" stroke-linecap="round" stroke-linejoin="round"/>
<path d="M591.5 253 L592.48 251.7 L593.48 250.43 L594.52 249.25 L595.63 248.17 L596.8 247.23 L598.06 246.44 L599.41 245.81 L600.84 245.32 L602.34 244.97 L603.9 244.73 L605.5 244.57 L607.12 244.45 L608.75 244.33 L610.35 244.17 L611.91 243.93 L613.41 243.58 L614.84 243.09 L616.19 242.46 L617.45 241.67 L618.62 240.73 L619.73 239.65 L620.77 238.47 L621.77 237.2 L622.75 235.9" fill="none" stroke="#3aa8d8" stroke-width="2.4" stroke-linecap="round" stroke-linejoin="round"/>
<path d="M591.5 253 L592.48 251.7 L593.48 250.43 L594.52 249.25 L595.63 248.17 L596.8 247.23 L598.06 246.44 L599.41 245.81 L600.84 245.32 L602.34 244.97 L603.9 244.73 L605.5 244.57 L607.12 244.45 L608.75 244.33 L610.35 244.17 L611.91 243.93 L613.41 243.58 L614.84 243.09 L616.19 242.46 L617.45 241.67 L618.62 240.73 L619.73 239.65 L620.77 238.47 L621.77 237.2 L622.75 235.9" fill="none" stroke="#9fe3f7" stroke-width="0.7" stroke-linecap="round" stroke-linejoin="round"/>
<path d="M593.75 256.54 L594.7 255.22 L595.67 253.93 L596.68 252.73 L597.76 251.63 L598.91 250.66 L600.15 249.84 L601.48 249.18 L602.89 248.66 L604.38 248.27 L605.94 248 L607.53 247.8 L609.15 247.64 L610.77 247.48 L612.37 247.28 L613.92 247.01 L615.41 246.62 L616.83 246.1 L618.15 245.44 L619.39 244.62 L620.55 243.65 L621.62 242.55 L622.64 241.34 L623.61 240.06 L624.55 238.74" fill="none" stroke="#3aa8d8" stroke-width="2.4" stroke-linecap="round" stroke-linejoin="round"/>
<path d="M593.75 256.54 L594.7 255.22 L595.67 253.93 L596.68 252.73 L597.76 251.63 L598.91 250.66 L600.15 249.84 L601.48 249.18 L602.89 248.66 L604.38 248.27 L605.94 248 L607.53 247.8 L609.15 247.64 L610.77 247.48 L612.37 247.28 L613.92 247.01 L615.41 246.62 L616.83 246.1 L618.15 245.44 L619.39 244.62 L620.55 243.65 L621.62 242.55 L622.64 241.34 L623.61 240.06 L624.55 238.74" fill="none" stroke="#9fe3f7" stroke-width="0.7" stroke-linecap="round" stroke-linejoin="round"/>
<path d="M0 -1.7 L30.9 -1.7 L30.9 -8.25 L47.9 0 L30.9 8.25 L30.9 1.7 L0 1.7 Z" transform="translate(624.6 52.9) rotate(63.06)" fill="#f2c31a" stroke="#3a3320" stroke-width="1.2" stroke-linejoin="miter"/>
<path d="M0 -1.7 L31.58 -1.7 L31.58 -8 L48.58 0 L31.58 8 L31.58 1.7 L0 1.7 Z" transform="translate(147.3 605.5) rotate(-53.79)" fill="#f2c31a" stroke="#3a3320" stroke-width="1.2" stroke-linejoin="miter"/>
<path d="M0 -2.5 L30 -2.5 L30 -8.5 L48 0 L30 8.5 L30 2.5 L0 2.5 Z" transform="translate(520 520.8) rotate(0)" fill="#f2c31a" stroke="#3a3320" stroke-width="1.2" stroke-linejoin="miter"/>
<g transform="translate(592.5 30) scale(1.1 1)"><text x="0" y="0" font-size="13.3" font-weight="bold" fill="#1b1b1b" textLength="46.82" lengthAdjust="spacing" stroke="#1b1b1b" stroke-width="0.85">RIDGE</text></g>
<g transform="translate(595.5 45) scale(1.1 1)"><text x="0" y="0" font-size="13.3" font-weight="bold" fill="#1b1b1b" textLength="40.91" lengthAdjust="spacing" stroke="#1b1b1b" stroke-width="0.85">VENT</text></g>
<g transform="translate(185.5 526.5) scale(1.1 1)"><text x="0" y="0" font-size="13.6" font-weight="bold" fill="#1b1b1b" textLength="54.09" lengthAdjust="spacing" stroke="#1b1b1b" stroke-width="0.85">SOFFIT</text></g>
<g transform="translate(535.3 370.3) scale(1.1 1)"><text x="0" y="0" font-size="14" font-weight="bold" fill="#1b1b1b" textLength="86.36" lengthAdjust="spacing" stroke="#1b1b1b" stroke-width="0.85">INSULATED</text></g>
<g transform="translate(557 384.6) scale(1.1 1)"><text x="0" y="0" font-size="14" font-weight="bold" fill="#1b1b1b" textLength="45.91" lengthAdjust="spacing" stroke="#1b1b1b" stroke-width="0.85">ATTIC</text></g>
<g transform="translate(451 497.5) scale(1.1 1)"><text x="0" y="0" font-size="13.5" font-weight="bold" fill="#1b1b1b" textLength="85.45" lengthAdjust="spacing" stroke="#1b1b1b" stroke-width="0.85">BATHROOM</text></g>
<g transform="translate(464 511) scale(1.1 1)"><text x="0" y="0" font-size="13.5" font-weight="bold" fill="#1b1b1b" textLength="61.82" lengthAdjust="spacing" stroke="#1b1b1b" stroke-width="0.85">CEILING</text></g>
<g transform="translate(481.5 525) scale(1.1 1)"><text x="0" y="0" font-size="13.5" font-weight="bold" fill="#1b1b1b" textLength="30" lengthAdjust="spacing" stroke="#1b1b1b" stroke-width="0.85">FAN</text></g>
<g transform="translate(221 650) scale(1.1 1)"><text x="0" y="0" font-size="13" font-weight="bold" fill="#1b1b1b" textLength="40.91" lengthAdjust="spacing" stroke="#1b1b1b" stroke-width="0.85">COOL</text></g>
<g transform="translate(229.5 664.5) scale(1.1 1)"><text x="0" y="0" font-size="13" font-weight="bold" fill="#1b1b1b" textLength="25.91" lengthAdjust="spacing" stroke="#1b1b1b" stroke-width="0.85">AIR</text></g>
<g transform="translate(505 655) scale(1.1 1)"><text x="0" y="0" font-size="13" font-weight="bold" fill="#1b1b1b" textLength="51.82" lengthAdjust="spacing" stroke="#1b1b1b" stroke-width="0.85">WARM,</text></g>
<g transform="translate(489.5 669.5) scale(1.1 1)"><text x="0" y="0" font-size="13" font-weight="bold" fill="#1b1b1b" textLength="79.55" lengthAdjust="spacing" stroke="#1b1b1b" stroke-width="0.85">MOIST AIR</text></g>
<text x="107" y="625" font-size="14" font-weight="bold" font-style="normal" fill="#efcf3a" text-anchor="start" textLength="58" lengthAdjust="spacingAndGlyphs" stroke="#efcf3a" stroke-width="2.2" stroke-linejoin="round">SOFFIT</text>
<text x="107" y="625" font-size="14" font-weight="bold" font-style="normal" fill="#2a2816" text-anchor="start" textLength="58" lengthAdjust="spacingAndGlyphs" stroke="#2a2816" stroke-width="0.85">SOFFIT</text>
<text x="97.5" y="639.5" font-size="14" font-weight="bold" font-style="normal" fill="#efcf3a" text-anchor="start" textLength="77.5" lengthAdjust="spacingAndGlyphs" stroke="#efcf3a" stroke-width="2.2" stroke-linejoin="round">EXHAUST</text>
<text x="97.5" y="639.5" font-size="14" font-weight="bold" font-style="normal" fill="#2a2816" text-anchor="start" textLength="77.5" lengthAdjust="spacingAndGlyphs" stroke="#2a2816" stroke-width="0.85">EXHAUST</text>
<text x="115" y="653.75" font-size="14" font-weight="bold" font-style="normal" fill="#efcf3a" text-anchor="start" textLength="43" lengthAdjust="spacingAndGlyphs" stroke="#efcf3a" stroke-width="2.2" stroke-linejoin="round">VENT</text>
<text x="115" y="653.75" font-size="14" font-weight="bold" font-style="normal" fill="#2a2816" text-anchor="start" textLength="43" lengthAdjust="spacingAndGlyphs" stroke="#2a2816" stroke-width="0.85">VENT</text>
<text x="77.4" y="669.4" font-size="11.4" font-weight="normal" font-style="italic" fill="#444" text-anchor="start" textLength="118.1" lengthAdjust="spacingAndGlyphs" stroke="#444" stroke-width="0.15">(DIRECTS VENTED AIR</text>
<text x="62.1" y="683.5" font-size="11.4" font-weight="normal" font-style="italic" fill="#444" text-anchor="start" textLength="148.7" lengthAdjust="spacingAndGlyphs" stroke="#444" stroke-width="0.15">AWAY &amp; PREVENTS IT FROM</text>
<text x="66.8" y="697.7" font-size="11.4" font-weight="normal" font-style="italic" fill="#444" text-anchor="start" textLength="138.2" lengthAdjust="spacingAndGlyphs" stroke="#444" stroke-width="0.15">RE-ENTERING THE HOME)</text>
<g transform="translate(376.5 384.5) rotate(-28.5)"><text x="0" y="0" font-size="13.4" font-weight="bold" fill="#1b1b1b" stroke="#1b1b1b" stroke-width="0.8" textLength="232" lengthAdjust="spacing">SOFFIT&#8217;S PASSIVE AIR FLOW</text></g>
</svg></body></html>
